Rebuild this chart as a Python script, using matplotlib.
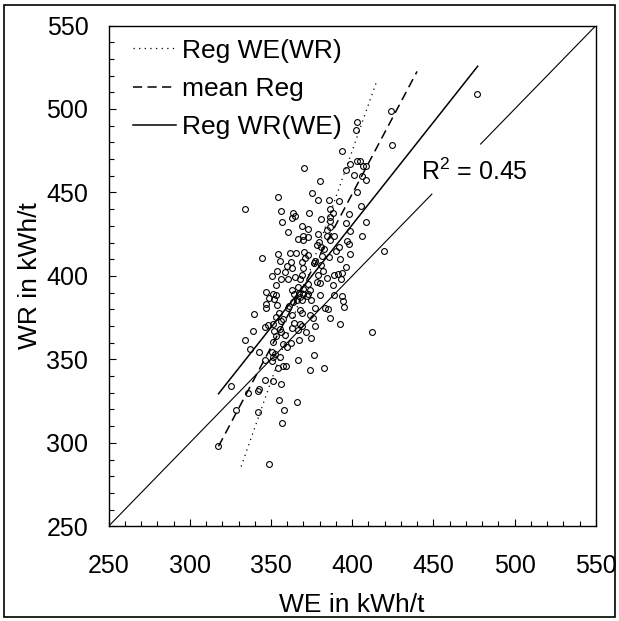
import numpy as np
import matplotlib.pyplot as plt
from matplotlib.patches import Rectangle
from matplotlib.ticker import MultipleLocator

plt.rcParams['font.family'] = ['Liberation Sans', 'DejaVu Sans']
plt.rcParams['mathtext.fontset'] = 'custom'
plt.rcParams['mathtext.rm'] = 'Liberation Sans'
plt.rcParams['mathtext.it'] = 'Liberation Sans:italic'

# measured points, kWh/t
we = [476.7, 424.1, 402.9, 402.2, 424.3, 393.9, 402.9, 404.6, 398.8, 408.5,
      406.6, 370.5, 396.3, 401.0, 406.1, 408.5, 380.0, 403.2, 375.4, 354.2,
      378.8, 385.4, 392.0, 405.3, 334.2, 356.4, 386.1, 363.7, 373.4, 388.3,
      398.0, 364.7, 362.7, 380.8, 386.4, 356.6, 386.6, 408.3, 396.3, 368.8,
      386.1, 398.8, 384.2, 372.5, 360.5, 370.0, 379.0, 405.8, 384.6, 389.0,
      366.4, 373.0, 369.8, 386.1, 396.6, 398.0, 379.3, 378.1, 381.0, 392.0,
      382.7, 390.1, 419.7, 398.8, 354.5, 361.5, 370.3, 365.4, 372.9, 381.4,
      385.9, 344.2, 370.8, 392.4, 355.4, 377.3, 362.2, 376.3, 369.1, 359.6,
      380.5, 396.1, 362.7, 369.6, 353.5, 358.6, 382.0, 393.4, 391.2, 388.5,
      378.8, 369.1, 350.8, 364.7, 360.3, 356.2, 368.1, 384.2, 392.8, 378.5,
      380.2, 372.5, 353.0, 388.3, 366.4, 362.7, 370.0, 347.2, 374.0, 351.1,
      353.0, 364.2, 367.1, 370.0, 373.0, 367.6, 372.0, 380.0, 388.5, 393.9,
      348.6, 352.0, 365.9, 369.1, 374.4, 363.7, 394.4, 347.2, 353.5, 361.0,
      376.9, 383.2, 394.9, 385.1, 360.3, 347.2, 367.6, 369.3, 339.8, 354.7,
      362.7, 353.0, 374.0, 375.7, 386.1, 357.4, 355.9, 363.9, 367.6, 392.4,
      348.1, 351.5, 376.9, 368.8, 362.7, 346.2, 355.4, 366.4, 351.8, 355.9,
      338.8, 371.6, 412.2, 358.5, 353.3, 374.9, 334.0, 367.4, 351.0, 362.2,
      357.1, 337.2, 359.8, 342.8, 350.8, 352.3, 351.1, 376.4, 355.4, 346.2,
      366.4, 350.6, 357.4, 359.3, 354.5, 382.9, 374.2, 346.2, 351.5, 356.4,
      325.2, 342.5, 342.3, 335.7, 355.0, 365.9, 328.2, 358.3, 342.3, 356.9,
      317.2, 348.9]
wr = [508.8, 498.8, 492.4, 487.7, 478.7, 474.9, 468.7, 468.7, 467.1, 466.1,
      465.9, 464.7, 463.3, 460.4, 459.7, 457.6, 457.1, 450.2, 449.5, 447.4,
      445.3, 445.3, 444.8, 441.7, 440.0, 438.9, 440.0, 437.7, 437.7, 437.7,
      437.0, 435.8, 434.4, 433.9, 435.1, 432.2, 432.8, 432.5, 431.8, 429.9,
      429.1, 427.0, 427.7, 428.2, 426.5, 424.2, 425.4, 424.1, 424.2, 423.9,
      422.3, 423.2, 421.8, 421.8, 421.1, 419.4, 420.1, 418.5, 417.5, 417.1,
      416.4, 415.2, 414.9, 413.0, 413.3, 413.5, 414.5, 413.5, 412.8, 411.9,
      411.6, 410.9, 410.7, 410.2, 409.2, 408.8, 408.1, 407.8, 408.1, 405.9,
      406.4, 405.5, 405.0, 404.7, 403.1, 402.4, 403.1, 401.9, 401.4, 400.5,
      400.5, 400.7, 399.8, 399.3, 398.4, 398.1, 397.9, 398.8, 398.4, 396.2,
      395.5, 395.3, 394.5, 394.5, 393.6, 391.3, 392.2, 390.3, 391.3, 389.2,
      388.6, 389.1, 389.6, 389.4, 388.9, 387.5, 387.7, 388.6, 388.6, 387.9,
      387.0, 386.3, 385.8, 385.3, 385.8, 384.4, 384.8, 383.4, 382.7, 381.9,
      381.0, 381.0, 381.5, 379.9, 380.8, 381.0, 379.6, 378.0, 377.0, 377.7,
      376.5, 375.6, 376.3, 374.6, 374.9, 373.9, 372.7, 372.0, 371.1, 370.9,
      370.4, 370.9, 370.1, 369.7, 368.5, 369.2, 368.3, 367.8, 366.8, 366.1,
      366.8, 366.1, 366.1, 364.5, 364.0, 362.8, 361.4, 361.6, 360.7, 359.7,
      359.0, 356.4, 357.3, 354.7, 354.3, 353.1, 351.2, 352.4, 351.4, 349.5,
      349.8, 349.1, 346.0, 346.0, 345.0, 344.8, 343.6, 337.9, 337.2, 335.1,
      334.1, 332.5, 331.3, 330.1, 325.8, 324.6, 319.9, 319.4, 318.2, 311.8,
      297.9, 287.2]

# regression lines (end points)
reg_we_wr_x = [331.6, 415.1]
reg_we_wr_y = [285.8, 516.8]
mean_reg_x = [317.7, 439.9]
mean_reg_y = [297.9, 522.5]
reg_wr_we_x = [317.7, 477.2]
reg_wr_we_y = [329.4, 525.6]
# 1:1 line, broken around the R2 label
diag_lo = [250, 449]
diag_hi = [479, 550]
r2 = 0.45

fs = 18
fs_big = 19
fig = plt.figure(figsize=(6.19, 6.21), dpi=100)
ax = fig.add_axes([0.1753, 0.1525, 0.7875, 0.8064])

ax.plot(diag_lo, diag_lo, color='black', lw=0.8)
ax.plot(diag_hi, diag_hi, color='black', lw=0.8)
ax.plot(we, wr, ls='none', marker='o', mfc='none', mec='black', ms=4.2, mew=0.8)

l1, = ax.plot(reg_we_wr_x, reg_we_wr_y, color='black', lw=0.9,
              ls=(0, (1, 3.5)), label='Reg WE(WR)')
l2, = ax.plot(mean_reg_x, mean_reg_y, color='black', lw=1.1,
              ls=(0, (6, 3.5)), label='mean Reg')
l3, = ax.plot(reg_wr_we_x, reg_wr_we_y, color='black', lw=1.1,
              label='Reg WR(WE)')

ax.text(442.6, 457.2, 'R$^2$ = %.2f' % r2, fontsize=fs, va='baseline')

ax.set_xlim(250, 550)
ax.set_ylim(250, 550)
for a in (ax.xaxis, ax.yaxis):
    a.set_major_locator(MultipleLocator(50))
    a.set_minor_locator(MultipleLocator(10))
ax.tick_params(which='both', direction='in', width=0.8)
ax.tick_params(which='major', length=5)
ax.tick_params(which='minor', length=3.5)
ax.tick_params(axis='x', pad=20, labelsize=fs)
ax.tick_params(axis='y', pad=14.5, labelsize=fs)
ax.set_xlabel('WE in kWh/t', fontsize=fs_big, labelpad=11)
ax.set_ylabel('WR in kWh/t', fontsize=fs_big, labelpad=3)
for s in ax.spines.values():
    s.set_linewidth(1.0)

ax.legend(handles=[l1, l2, l3], loc='upper left', bbox_to_anchor=(0.051, 0.974),
          frameon=False, fontsize=fs_big, borderpad=0, borderaxespad=0,
          handlelength=1.63, handletextpad=0.22, labelspacing=0.54)

fig.patches.append(Rectangle((0.0065, 0.0064), 0.987, 0.9855, transform=fig.transFigure,
                             fill=False, lw=1.2, ec='black'))

fig.savefig('out.png', dpi=100)
